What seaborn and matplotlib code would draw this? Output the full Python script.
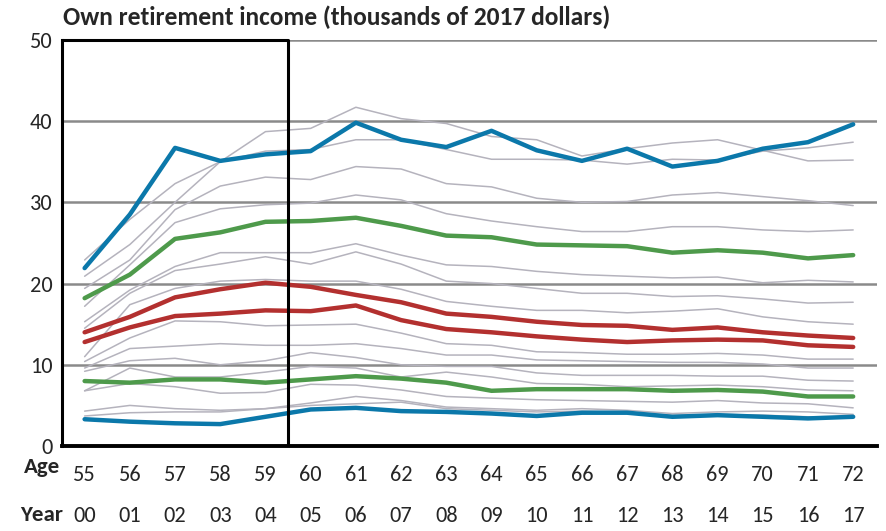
import pandas as pd
import matplotlib.pyplot as plt
import seaborn as sns

# ages / survey years along the x axis
ages = [55, 56, 57, 58, 59, 60, 61, 62, 63, 64, 65, 66, 67, 68, 69, 70, 71, 72]
years = ["00", "01", "02", "03", "04", "05", "06", "07", "08", "09",
         "10", "11", "12", "13", "14", "15", "16", "17"]

# highlighted series (thousands of 2017 dollars)
blue_hi = [21.9, 28.5, 36.7, 35.1, 35.9, 36.3, 39.8, 37.7, 36.8, 38.8, 36.4, 35.1, 36.6, 34.4, 35.1, 36.6, 37.4, 39.6]
green_hi = [18.2, 21.1, 25.5, 26.3, 27.6, 27.7, 28.1, 27.1, 25.9, 25.7, 24.8, 24.7, 24.6, 23.8, 24.1, 23.8, 23.1, 23.5]
red_hi = [14.0, 15.9, 18.3, 19.3, 20.1, 19.6, 18.6, 17.7, 16.3, 15.9, 15.3, 14.9, 14.8, 14.3, 14.6, 14.0, 13.6, 13.3]
red_lo = [12.8, 14.6, 16.0, 16.3, 16.7, 16.6, 17.3, 15.5, 14.4, 14.0, 13.5, 13.1, 12.8, 13.0, 13.1, 13.0, 12.4, 12.2]
green_lo = [8.0, 7.8, 8.2, 8.2, 7.8, 8.2, 8.6, 8.3, 7.8, 6.8, 7.0, 7.0, 7.0, 6.8, 6.9, 6.7, 6.1, 6.1]
blue_lo = [3.3, 3.0, 2.8, 2.7, 3.6, 4.5, 4.7, 4.3, 4.2, 4.0, 3.7, 4.1, 4.1, 3.6, 3.8, 3.6, 3.4, 3.6]

# background (gray) series
g1 = [22.9, 27.9, 32.3, 35.0, 36.3, 36.5, 37.7, 37.7, 36.5, 35.3, 35.3, 35.2, 34.7, 35.3, 35.2, 36.3, 36.7, 37.4]
g2 = [20.9, 24.8, 30.0, 35.0, 38.7, 39.1, 41.7, 40.3, 39.7, 38.1, 37.7, 35.7, 36.6, 37.3, 37.7, 36.4, 35.1, 35.2]
g3 = [19.4, 22.9, 29.1, 32.0, 33.1, 32.8, 34.4, 34.1, 32.3, 31.9, 30.5, 30.0, 30.1, 30.9, 31.2, 30.7, 30.2, 29.6]
g4 = [17.2, 22.3, 27.5, 29.2, 29.7, 29.9, 30.9, 30.3, 28.6, 27.7, 27.0, 26.4, 26.4, 27.0, 27.0, 26.6, 26.4, 26.6]
g5 = [15.3, 19.2, 22.1, 23.8, 23.8, 23.8, 24.9, 23.5, 22.3, 22.1, 21.5, 21.1, 20.9, 20.7, 20.8, 20.1, 20.4, 20.2]
g6 = [14.5, 18.8, 21.6, 22.4, 23.3, 22.4, 23.9, 22.4, 20.3, 20.0, 19.4, 18.8, 18.8, 18.4, 18.5, 18.1, 17.6, 17.7]
g7 = [11.0, 17.4, 19.4, 20.3, 20.5, 20.3, 20.3, 19.3, 17.8, 17.2, 16.7, 16.7, 16.4, 16.6, 16.9, 15.9, 15.3, 15.0]
g8 = [10.4, 13.3, 15.4, 15.3, 14.8, 14.9, 15.0, 13.9, 12.6, 12.4, 11.6, 11.5, 11.3, 11.3, 11.4, 11.2, 10.7, 10.7]
g9 = [9.6, 12.0, 12.3, 12.6, 12.4, 12.4, 12.6, 12.0, 11.2, 11.2, 10.6, 10.5, 10.4, 10.3, 10.3, 10.1, 9.6, 9.6]
g10 = [9.2, 10.5, 10.8, 10.0, 10.5, 11.5, 10.9, 10.0, 9.8, 9.8, 9.0, 8.7, 8.7, 8.7, 8.6, 8.6, 8.1, 8.0]
g11 = [6.8, 9.6, 8.5, 8.5, 9.1, 9.8, 9.6, 8.5, 9.1, 8.5, 7.7, 7.6, 7.3, 7.4, 7.5, 7.3, 6.9, 6.8]
g12 = [6.8, 7.7, 7.3, 6.5, 6.6, 7.6, 7.5, 6.9, 6.1, 5.9, 5.7, 5.6, 5.5, 5.4, 5.6, 5.3, 5.2, 4.7]
g13 = [4.3, 5.0, 4.6, 4.4, 4.6, 5.3, 6.1, 5.6, 4.8, 4.6, 4.4, 4.6, 4.4, 4.0, 4.2, 4.3, 4.2, 3.9]
g14 = [3.7, 4.1, 4.2, 4.2, 4.6, 5.0, 5.2, 5.4, 4.6, 4.4, 4.2, 4.3, 4.2, 3.8, 3.9, 3.8, 3.6, 3.6]

gray_lines = [g1, g2, g3, g4, g5, g6, g7, g8, g9, g10, g11, g12, g13, g14]
pos = list(range(len(ages)))

gray_df = pd.concat(
    [pd.DataFrame({"pos": pos, "value": vals, "line": i}) for i, vals in enumerate(gray_lines)],
    ignore_index=True,
)

BLUE = "#0b78aa"
GREEN = "#4e9a4b"
RED = "#b3302f"
GRAY = "#b5b3bd"
FONT = ["Carlito", "Lato", "DejaVu Sans"]

sns.set_style("white")
plt.rcParams["font.family"] = FONT

fig = plt.figure(figsize=(8.86, 5.31), dpi=100)
ax = fig.add_axes([0.070, 0.160, 0.920, 0.765])

# background lines
sns.lineplot(data=gray_df, x="pos", y="value", units="line", estimator=None,
             color=GRAY, lw=1.1, ax=ax, zorder=2)

# highlighted lines
for vals, col in [(blue_hi, BLUE), (green_hi, GREEN), (red_hi, RED),
                  (red_lo, RED), (green_lo, GREEN), (blue_lo, BLUE)]:
    sns.lineplot(x=pos, y=vals, color=col, lw=3.2, ax=ax, zorder=3)

ax.set_xlim(-0.5, 17.53)
ax.set_ylim(0, 50)
ax.set_xlabel("")
ax.set_ylabel("")

# horizontal gridlines
ax.set_yticks([0, 10, 20, 30, 40, 50])
for yv in [10, 20, 30, 40, 50]:
    ax.axhline(yv, color="#8a8a8a", lw=1.8, zorder=1)

# black box around the pre-60 period
for s in ["top", "right"]:
    ax.spines[s].set_visible(False)
ax.spines["left"].set_color("black")
ax.spines["left"].set_linewidth(2.2)
ax.spines["bottom"].set_color("black")
ax.spines["bottom"].set_linewidth(2.8)
ax.plot([-0.5, 4.5], [50, 50], color="black", lw=2.2, zorder=4, clip_on=False)
ax.axvline(4.5, color="black", lw=2.2, zorder=4)

ax.tick_params(axis="y", length=0, labelsize=16, pad=7)
ax.tick_params(axis="x", length=7, color="#888888", width=1.2, direction="out",
               labelsize=16, pad=7)
ax.set_xticks(pos)
ax.set_xticklabels([str(a) for a in ages])

# year row
for p, yr in zip(pos, years):
    ax.text(p, -0.171, yr, transform=ax.get_xaxis_transform(), ha="center", va="center",
            fontsize=16)

fig.text(0.047, 0.121, "Age", ha="center", va="center", fontsize=16.5, fontweight="bold")
fig.text(0.047, 0.030, "Year", ha="center", va="center", fontsize=16.5, fontweight="bold")

fig.text(0.071, 0.967, "Own retirement income (thousands of 2017 dollars)",
         ha="left", va="center", fontsize=18.4, fontweight="bold")

fig.savefig("out.png", dpi=100)
